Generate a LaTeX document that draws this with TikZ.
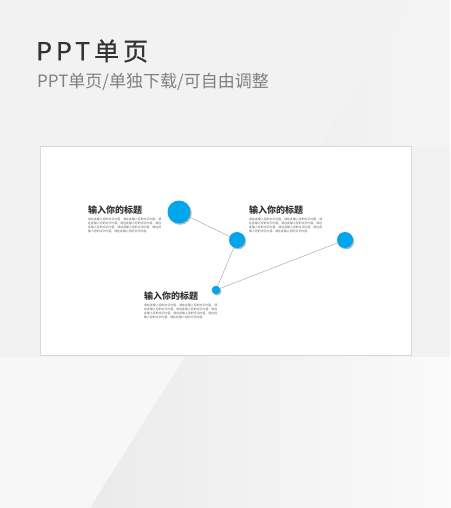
\documentclass[tikz,border=0pt]{standalone}
\usepackage{fontspec}
\setmainfont{Noto Sans CJK SC}
\XeTeXlinebreaklocale "zh"
\XeTeXlinebreakskip=0pt plus 1pt
\usetikzlibrary{positioning, shadows}
\definecolor{dotblue}{RGB}{0,166,236}
\definecolor{titlegray}{RGB}{51,51,51}
\definecolor{subgray}{RGB}{128,128,128}
\tikzset{
  x=1pt, y=-1pt,
  dot/.style={circle, fill=dotblue, inner sep=0pt,
    drop shadow={shadow xshift=1.2pt, shadow yshift=-1.3pt, fill=black!40, opacity=.7}},
  link/.style={draw=black!28, line width=.6pt},
  heading/.style={anchor=west, inner sep=0pt, text=titlegray,
    font=\fontsize{9}{10}\selectfont\bfseries},
  body/.style={anchor=north west, inner sep=0pt, text width=73pt, align=justify,
    text=black!62, font=\fontsize{2.9}{3.9}\selectfont},
  node distance=3.5pt
}
\newcommand\filler{请在此输入您的文字内容，}
\newcommand\bodytext{\filler\filler\filler\filler\filler\filler\filler\filler}

\begin{document}
\begin{tikzpicture}
    \useasboundingbox (0,0) rectangle (450,508);
    \fill[black!5] (0,0) rectangle (450,508);
    \fill[black!3] (0,357) -- (185,357) -- (90,508) -- (0,508) -- cycle;
    \shade[left color=black!8, right color=black!2] (185,357) -- (450,357) -- (450,508) -- (90,508) -- cycle;
    \shade[left color=black!6, right color=black!4] (410,0) -- (450,0) -- (450,146) -- (320,146) -- cycle;
    \draw[fill=white, draw=black!15, line width=1pt] (40,146) rectangle (411,355);

    \node[anchor=west, inner sep=0pt, text=titlegray,
      font=\addfontfeatures{LetterSpace=16, FakeBold=0.6}\fontsize{25}{28}\selectfont] (ttl) at (36,51) {PPT单页};
    \node[anchor=west, inner sep=0pt, text=subgray,
      font=\fontsize{17}{20}\selectfont] (sub) at (37,82) {PPT单页/单独下载/可自由调整};

    \node[heading] (h1) at (88,210) {输入你的标题};
    \node[body] (b1) [below=of h1.south west, anchor=north west] {\bodytext};
    \node[heading] (h2) at (249,210) {输入你的标题};
    \node[body] (b2) [below=of h2.south west, anchor=north west] {\bodytext};
    \node[heading] (h3) at (144,296) {输入你的标题};
    \node[body] (b3) [below=of h3.south west, anchor=north west] {\bodytext};

    \draw[link] (179,212) -- (237,240) -- (216,290) -- (345,240);

    \node[dot, minimum size=23pt] (big) at (179,212) {};
    \node[dot, minimum size=16pt] (mid) at (237,240) {};
    \node[dot, minimum size=16pt] (rgt) at (345,240) {};
    \node[dot, minimum size=8.5pt] (low) at (216,290) {};
  \end{tikzpicture}
\end{document}
